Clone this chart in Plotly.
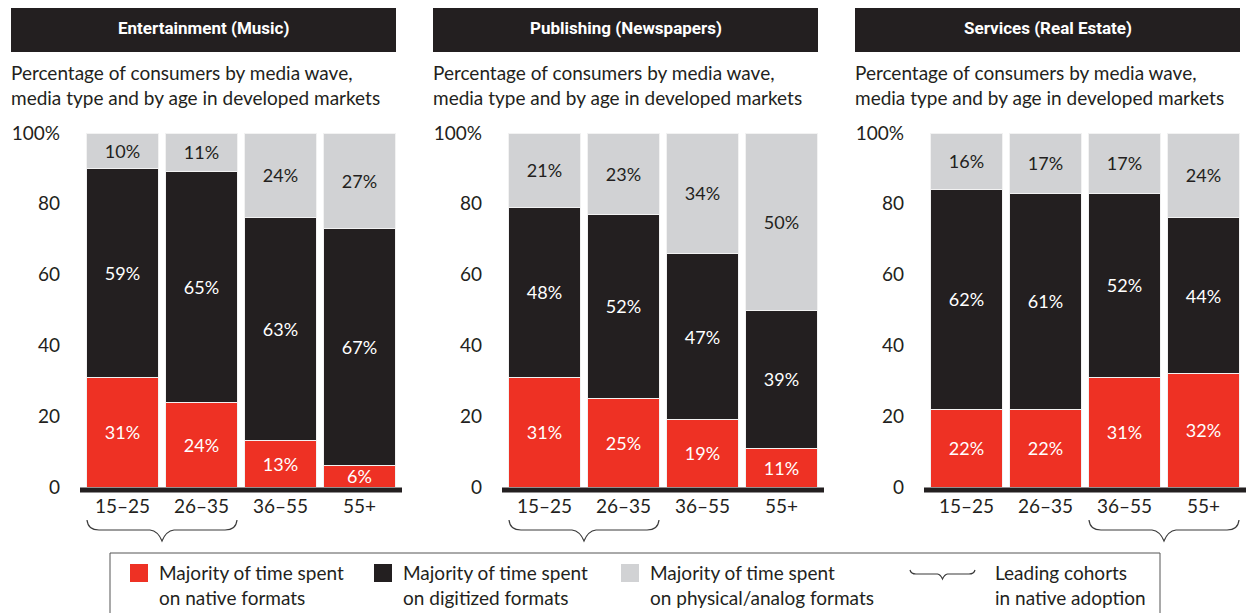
import plotly.graph_objects as go

# ---------------- data ----------------
panel_titles = ["Entertainment (Music)", "Publishing (Newspapers)", "Services (Real Estate)"]
age_groups = ["15–25", "26–35", "36–55", "55+"]
native_pct = [[31, 24, 13, 6], [31, 25, 19, 11], [22, 22, 31, 32]]
digitized_pct = [[59, 65, 63, 67], [48, 52, 47, 39], [62, 61, 52, 44]]
physical_pct = [[10, 11, 24, 27], [21, 23, 34, 50], [16, 17, 17, 24]]
leading_cohorts = [[0, 1], [0, 1], [2, 3]]
subtitle = "Percentage of consumers by media wave,<br>media type and by age in developed markets"
series_names = ["Majority of time spent<br>on native formats",
                "Majority of time spent<br>on digitized formats",
                "Majority of time spent<br>on physical/analog formats"]
brace_label = "Leading cohorts<br>in native adoption"
y_tickvals = [0, 20, 40, 60, 80, 100]
y_ticktext = ["0", "20", "40", "60", "80", "100%"]

# ---------------- styles ----------------
PAGE_OFF = 8                      # default body margin of the html page
W, H = 1256 - PAGE_OFF, 613 - PAGE_OFF
RED, BLACK, GREY = "#ee3124", "#231f20", "#d1d2d4"
TXT = "#231f20"
BODY = "Lato"
HEAD = "Roboto"
FS = 19
colors = [RED, BLACK, GREY]
text_colors = ["white", "white", TXT]


def px(x):
    return (x - PAGE_OFF) / W


def py(y):
    return 1 - (y - PAGE_OFF) / H


PANEL_DX = 422
DOM_X0, DOM_X1 = 83, 399
DOM_Y0, DOM_Y1 = 487, 133

fig = go.Figure()
shapes = []
annotations = []

for k in range(3):
    xa = "x" if k == 0 else f"x{k+1}"
    ya = "y" if k == 0 else f"y{k+1}"
    for s, vals in enumerate([native_pct[k], digitized_pct[k], physical_pct[k]]):
        fig.add_trace(go.Bar(
            x=age_groups, y=vals, xaxis=xa, yaxis=ya,
            name=series_names[s].replace("<br>", " "), showlegend=False,
            marker=dict(color=colors[s], line=dict(color="#f2f2f2", width=1)),
            texttemplate="%{y}%", textposition="inside", insidetextanchor="middle",
            textangle=0,
            textfont=dict(family=BODY, size=18, color=text_colors[s]),
            hoverinfo="skip",
        ))
    x0 = DOM_X0 + k * PANEL_DX
    x1 = DOM_X1 + k * PANEL_DX
    axis_x = dict(domain=[px(x0), px(x1)], anchor=ya, type="category",
                  showgrid=False, showline=False, zeroline=False, ticks="",
                  tickfont=dict(family=BODY, size=FS, color=TXT),
                  ticklabelstandoff=6, fixedrange=True, automargin=False)
    axis_y = dict(domain=[py(DOM_Y0), py(DOM_Y1)], anchor=xa, range=[0, 100],
                  showgrid=False, showline=False, zeroline=False, ticks="",
                  tickvals=y_tickvals, ticktext=y_ticktext,
                  tickfont=dict(family=BODY, size=FS, color=TXT),
                  ticklabelstandoff=22, fixedrange=True, automargin=False)
    fig.layout["xaxis" if k == 0 else f"xaxis{k+1}"] = axis_x
    fig.layout["yaxis" if k == 0 else f"yaxis{k+1}"] = axis_y

    # header
    hx0, hx1 = 11 + k * PANEL_DX, 396 + k * PANEL_DX
    shapes.append(dict(type="rect", xref="paper", yref="paper",
                       x0=px(hx0), x1=px(hx1), y0=py(52), y1=py(5),
                       fillcolor=BLACK, line=dict(width=0)))
    annotations.append(dict(xref="paper", yref="paper", x=px((hx0 + hx1) / 2), y=py(28.5),
                            text=f"<b>{panel_titles[k]}</b>", showarrow=False,
                            font=dict(family=HEAD, size=17, color="white"),
                            xanchor="center", yanchor="middle"))
    # subtitle
    annotations.append(dict(xref="paper", yref="paper", x=px(hx0 - 2), y=py(59),
                            text=subtitle, showarrow=False, align="left",
                            font=dict(family=BODY, size=FS, color=TXT),
                            xanchor="left", yanchor="top"))
    # baseline
    shapes.append(dict(type="rect", xref="paper", yref="paper",
                       x0=px(x0 - 3), x1=px(x1 + 3), y0=py(492.5), y1=py(487.5),
                       fillcolor=BLACK, line=dict(width=0)))
    # brace under leading cohorts
    step = (x1 - x0) / 4
    a, b = leading_cohorts[k]
    bl = x0 + a * step + 4
    br = x0 + (b + 1) * step - 4
    c = (bl + br) / 2
    ytop, ymid, ypt = 520, 530, 541
    pts = [f"M{px(bl)},{py(ytop)}",
           f"Q{px(bl+1)},{py(ymid)} {px(bl+12)},{py(ymid)}",
           f"L{px(c-12)},{py(ymid)}",
           f"Q{px(c-4)},{py(ymid+1)} {px(c)},{py(ypt)}",
           f"Q{px(c+4)},{py(ymid+1)} {px(c+12)},{py(ymid)}",
           f"L{px(br-12)},{py(ymid)}",
           f"Q{px(br-1)},{py(ymid)} {px(br)},{py(ytop)}"]
    shapes.append(dict(type="path", xref="paper", yref="paper", path=" ".join(pts),
                       line=dict(color="#3a3a3a", width=1.2)))

# ---------------- legend (custom) ----------------
shapes.append(dict(type="rect", xref="paper", yref="paper",
                   x0=px(110), x1=px(1160), y0=py(625), y1=py(553),
                   line=dict(color="#555555", width=1), fillcolor="rgba(0,0,0,0)"))
leg_sq_x = [130, 374, 621]
for s in range(3):
    sx = leg_sq_x[s]
    shapes.append(dict(type="rect", xref="paper", yref="paper",
                       x0=px(sx), x1=px(sx + 18), y0=py(582), y1=py(564),
                       fillcolor=colors[s], line=dict(width=0)))
    annotations.append(dict(xref="paper", yref="paper", x=px(sx + 27), y=py(559),
                            text=series_names[s], showarrow=False, align="left",
                            font=dict(family=BODY, size=FS, color=TXT),
                            xanchor="left", yanchor="top"))
# legend brace
lb, lr, lc = 910, 975, 942.5
lpts = [f"M{px(lb)},{py(570)}",
        f"Q{px(lb+1)},{py(574)} {px(lb+6)},{py(574)}",
        f"L{px(lc-5)},{py(574)}",
        f"Q{px(lc-2)},{py(574.5)} {px(lc)},{py(579)}",
        f"Q{px(lc+2)},{py(574.5)} {px(lc+5)},{py(574)}",
        f"L{px(lr-6)},{py(574)}",
        f"Q{px(lr-1)},{py(574)} {px(lr)},{py(570)}"]
shapes.append(dict(type="path", xref="paper", yref="paper", path=" ".join(lpts),
                   line=dict(color="#3a3a3a", width=1.2)))
annotations.append(dict(xref="paper", yref="paper", x=px(993), y=py(559),
                        text=brace_label, showarrow=False, align="left",
                        font=dict(family=BODY, size=FS, color=TXT),
                        xanchor="left", yanchor="top"))

fig.update_layout(
    width=W, height=H, autosize=False,
    margin=dict(l=0, r=0, t=0, b=0, autoexpand=False),
    barmode="stack", bargap=0.1,
    paper_bgcolor="white", plot_bgcolor="white",
    shapes=shapes, annotations=annotations,
    uniformtext=dict(minsize=18, mode="show"),
    font=dict(family=BODY, color=TXT),
)

fig.write_html("out.html", config={"displayModeBar": False})
